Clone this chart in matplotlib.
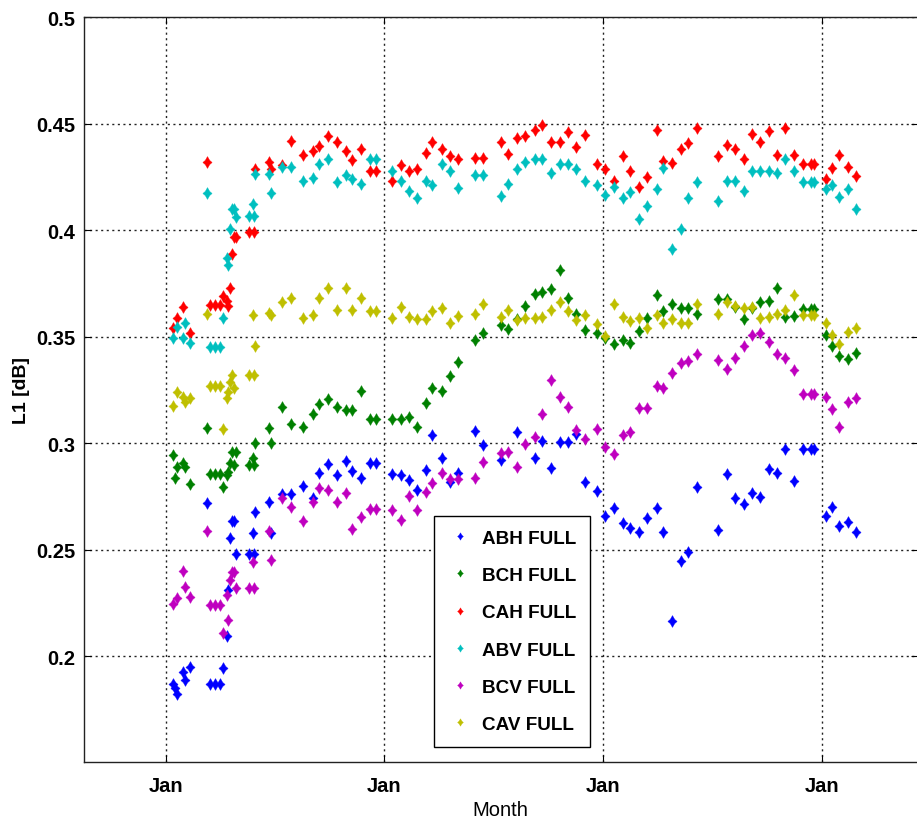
import numpy as np
import matplotlib
matplotlib.use("Agg")
import matplotlib.pyplot as plt
from matplotlib.path import Path

nan = np.nan

# measurement dates, days after 1 Jan of the first year
days = [11, 15, 19, 28, 32, 40,
        68, 73, 82, 90, 95,
        101, 104, 107, 110, 114, 117,
        138, 145, 147, 149,
        172, 175,
        194, 208, 228, 245, 256, 270, 285, 300, 311, 326, 341, 350,
        378, 392, 406, 420, 434, 445, 461, 475, 488,
        516, 530, 559, 572, 586, 600, 616, 628, 644, 659, 671, 685, 700,
        720, 734, 748, 763, 776, 791, 804, 820, 831, 845, 860, 873, 888,
        923, 937, 951, 966, 979, 993, 1007, 1021, 1035, 1050, 1064, 1078, 1083,
        1103, 1113, 1125, 1140, 1153]

abh = [0.187, 0.185, 0.182, 0.1925, 0.1889, 0.1947,
       0.272, 0.1869, 0.1869, 0.1869, 0.1944,
       0.2092, 0.2311, 0.2553, 0.2635, 0.2635, 0.2478,
       0.2478, 0.2577, 0.2478, 0.2675,
       0.2725, 0.2577,
       0.276, 0.276, 0.28, 0.2741, 0.2858, 0.2901, 0.2851, 0.2916, 0.2869, 0.2835, 0.2905, 0.2905,
       0.2856, 0.2851, 0.2827, 0.278, 0.2874, 0.3038, 0.2932, 0.2816, 0.2858,
       0.3057, 0.2991, 0.2921, nan, 0.3051, nan, 0.2932, 0.301, 0.2885, 0.3007, 0.3007, 0.3041, 0.2816,
       0.2775, 0.266, 0.2697, 0.2624, 0.26, 0.2581, 0.2647, 0.2697, 0.2581, 0.2165, 0.2447, 0.2491, 0.2793,
       0.2592, 0.2855, 0.2744, 0.2713, 0.2764, 0.2749, 0.2879, 0.2858, 0.2973, 0.2822, 0.2973, 0.2973, 0.2973,
       0.266, 0.2702, 0.2613, 0.2628, 0.2581]

bch = [0.2946, 0.2838, 0.289, 0.2905, 0.289, 0.2806,
       0.307, 0.2855, 0.2855, 0.2855, 0.2795,
       0.285, 0.2863, 0.2907, 0.296, 0.2897, 0.296,
       0.2897, 0.2932, 0.2897, 0.2999,
       0.307, 0.2999,
       0.3171, 0.3088, 0.3077, 0.3135, 0.3182, 0.3207, 0.3171, 0.3156, 0.3156, 0.3245, 0.3113, 0.3113,
       0.3113, 0.3113, 0.3124, 0.3074, 0.3187, 0.3257, 0.3245, 0.3317, 0.338,
       0.3485, 0.352, 0.3555, 0.3536, 0.3583, 0.3645, 0.3703, 0.3708, 0.3723, 0.3813, 0.368, 0.3609, 0.3531,
       0.3516, 0.3495, 0.3464, 0.3486, 0.3473, 0.3525, 0.3586, 0.3698, 0.362, 0.3656, 0.3633, 0.3636, 0.3605,
       0.3677, 0.3677, 0.364, 0.3583, 0.3635, 0.3661, 0.3667, 0.3727, 0.3594, 0.3598, 0.363, 0.363, 0.363,
       0.3508, 0.3455, 0.3411, 0.3395, 0.3426]

cah = [0.354, nan, 0.359, 0.364, nan, 0.352,
       0.432, 0.365, 0.365, 0.365, 0.369,
       0.367, 0.3645, 0.373, 0.389, 0.397, 0.397,
       0.399, nan, 0.399, 0.429,
       0.432, 0.429,
       0.4305, 0.4422, 0.4355, 0.4375, 0.4395, 0.4445, 0.4417, 0.4375, 0.4331, 0.438, 0.4281, 0.4281,
       0.4234, 0.4308, 0.4277, 0.4289, 0.4364, 0.4417, 0.4383, 0.4348, 0.4336,
       0.4339, 0.4339, 0.4417, 0.4359, 0.4433, 0.4445, 0.4469, 0.4495, 0.4417, 0.4417, 0.4461, 0.4391, 0.4448,
       0.4313, 0.4289, 0.4234, 0.4348, 0.4277, 0.4203, 0.425, 0.4469, 0.4328, 0.4317, 0.4383, 0.4411, 0.448,
       0.4348, 0.4403, 0.438, 0.4336, 0.4453, 0.4417, 0.4466, 0.4355, 0.4481, 0.4355, 0.4313, 0.4313, 0.4313,
       0.4242, 0.4292, 0.4355, 0.4297, 0.4255]

abv = [0.3495, nan, 0.3547, 0.3495, 0.3567, 0.3472,
       0.4175, 0.345, 0.345, 0.345, 0.3586,
       0.387, 0.3836, 0.4005, 0.41, 0.41, 0.4063,
       0.4067, 0.4125, 0.4067, 0.4266,
       0.4266, 0.4177,
       0.4297, 0.4297, 0.4234, 0.4245, 0.4313, 0.4336, 0.4227, 0.4261, 0.4239, 0.4219, 0.4336, 0.4336,
       0.4277, 0.4234, 0.4183, 0.4153, 0.4234, 0.4214, 0.4313, 0.4277, 0.4198,
       0.4261, 0.4261, 0.4159, 0.4219, 0.4289, 0.432, 0.4336, 0.4336, 0.427, 0.4313, 0.4313, 0.4289, 0.4234,
       0.4214, 0.4164, 0.4203, 0.4153, 0.418, 0.4055, 0.4113, 0.4195, 0.4292, 0.3911, 0.4008, 0.4153, 0.4227,
       0.4136, 0.4234, 0.4234, 0.4183, 0.4277, 0.4277, 0.4281, 0.427, 0.4336, 0.4281, 0.4227, 0.4227, 0.4227,
       0.4192, 0.4214, 0.4156, 0.4195, 0.4098]

bcv = [0.2243, nan, 0.2274, 0.2399, 0.2326, 0.2279,
       0.2588, 0.224, 0.224, 0.224, 0.211,
       0.2287, 0.217, 0.2358, 0.2397, 0.2397, 0.2322,
       0.2322, 0.2444, 0.2322, nan,
       0.2588, 0.2451,
       0.2744, 0.2702, 0.2635, 0.2722, 0.2791, 0.278, 0.2722, 0.2764, 0.2597, 0.2655, 0.2691, 0.2691,
       0.2686, 0.2639, 0.2754, 0.2686, 0.2769, 0.2811, 0.2858, 0.2832, 0.2832,
       0.2835, 0.291, 0.2952, 0.2957, 0.289, 0.2995, 0.3031, 0.3135, 0.3297, 0.3218, 0.3171, 0.3062, 0.302,
       0.3066, 0.2984, 0.2948, 0.3038, 0.3051, 0.3164, 0.3167, 0.327, 0.3261, 0.3328, 0.3375, 0.3386, 0.3417,
       0.339, 0.3348, 0.3398, 0.3458, 0.3508, 0.352, 0.3477, 0.3417, 0.3401, 0.3344, 0.3229, 0.3229, 0.3229,
       0.3218, 0.316, 0.3077, 0.3192, 0.3211]

cav = [0.3176, nan, 0.3242, 0.3218, 0.3195, 0.3214,
       0.3609, 0.327, 0.327, 0.327, 0.3066,
       0.321, 0.3242, 0.3289, 0.332, 0.3257, nan,
       0.332, 0.3602, 0.332, 0.3458,
       0.361, 0.36,
       0.3661, 0.3683, 0.3586, 0.3602, 0.3683, 0.373, 0.3625, 0.373, 0.3625, 0.3683, 0.362, 0.362,
       0.3586, 0.3641, 0.3594, 0.3583, 0.3583, 0.362, 0.3636, 0.3567, 0.3598,
       0.3605, 0.3652, 0.3594, 0.3625, 0.3578, 0.3589, 0.3589, 0.3594, 0.3625, 0.3664, 0.362, 0.3578, 0.3602,
       0.3558, 0.3505, 0.3652, 0.3594, 0.3573, 0.3586, 0.3542, 0.3602, 0.3563, 0.3583, 0.3567, 0.3567, 0.3656,
       0.3605, 0.3661, 0.3645, 0.3636, 0.3641, 0.3589, 0.3594, 0.3605, 0.3625, 0.3695, 0.3602, 0.3602, 0.3602,
       0.3563, 0.3508, 0.3465, 0.3523, 0.3542]

labels = ["ABH FULL", "BCH FULL", "CAH FULL", "ABV FULL", "BCV FULL", "CAV FULL"]
colors = [(0, 0, 1), (0, 0.5, 0), (1, 0, 0), (0, 0.75, 0.75), (0.75, 0, 0.75), (0.75, 0.75, 0)]
year_starts = [0, 365, 731, 1096]

# four pointed star marker like the old matlab export
star = Path([(0, 1), (0.36, 0.36), (0.78, 0), (0.36, -0.36), (0, -1),
             (-0.36, -0.36), (-0.78, 0), (-0.36, 0.36), (0, 1)],
            [Path.MOVETO] + [Path.LINETO] * 7 + [Path.CLOSEPOLY])

plt.rcParams["font.family"] = ["Liberation Sans", "DejaVu Sans"]

fig = plt.figure(figsize=(9.17, 8.28), dpi=100)
# right edge of the box sits on the picture border, like the cropped original
ax = fig.add_axes([0.0911, 0.0779, 0.9095, 0.8998])

for vals, lab, col in zip([abh, bch, cah, abv, bcv, cav], labels, colors):
    ax.plot(days, vals, linestyle="none", marker=star, markersize=8.5,
            markerfacecolor=col, markeredgecolor=col, markeredgewidth=0.3, label=lab)

ax.set_xlim(-138, 1256)
ax.set_ylim(0.15, 0.5)
ax.set_xticks(year_starts)
ax.set_xticklabels(["Jan"] * len(year_starts))
ax.set_yticks([0.2, 0.25, 0.3, 0.35, 0.4, 0.45, 0.5])
ax.set_yticklabels(["0.2", "0.25", "0.3", "0.35", "0.4", "0.45", "0.5"])
ax.grid(True, color="#222222", linestyle=(0, (1.5, 2.5)), linewidth=1.0)
ax.tick_params(direction="in", length=5, width=0.8, top=True, right=True,
               labelsize=14.5)
ax.tick_params(axis="y", pad=6)
ax.tick_params(axis="x", pad=10)
for lbl in ax.get_xticklabels() + ax.get_yticklabels():
    lbl.set_fontweight("bold")
for sp in ax.spines.values():
    sp.set_linewidth(1.0)
    sp.set_color("#222222")

ax.set_xlabel("Month", fontsize=14.5, labelpad=3)
ax.set_ylabel("L1 [dB]", fontsize=14, fontweight="bold", labelpad=4)

leg = ax.legend(loc="upper left", bbox_to_anchor=(434 / 917, 1 - 517 / 828),
                bbox_transform=fig.transFigure, borderaxespad=0,
                prop={"weight": "bold", "size": 13.6},
                frameon=True, fancybox=False, edgecolor="black", framealpha=1,
                handlelength=1.32, handletextpad=0.5, borderpad=0.72,
                labelspacing=1.06, markerscale=0.62)
leg.get_frame().set_linewidth(1.0)

fig.savefig("out.png", dpi=100)
